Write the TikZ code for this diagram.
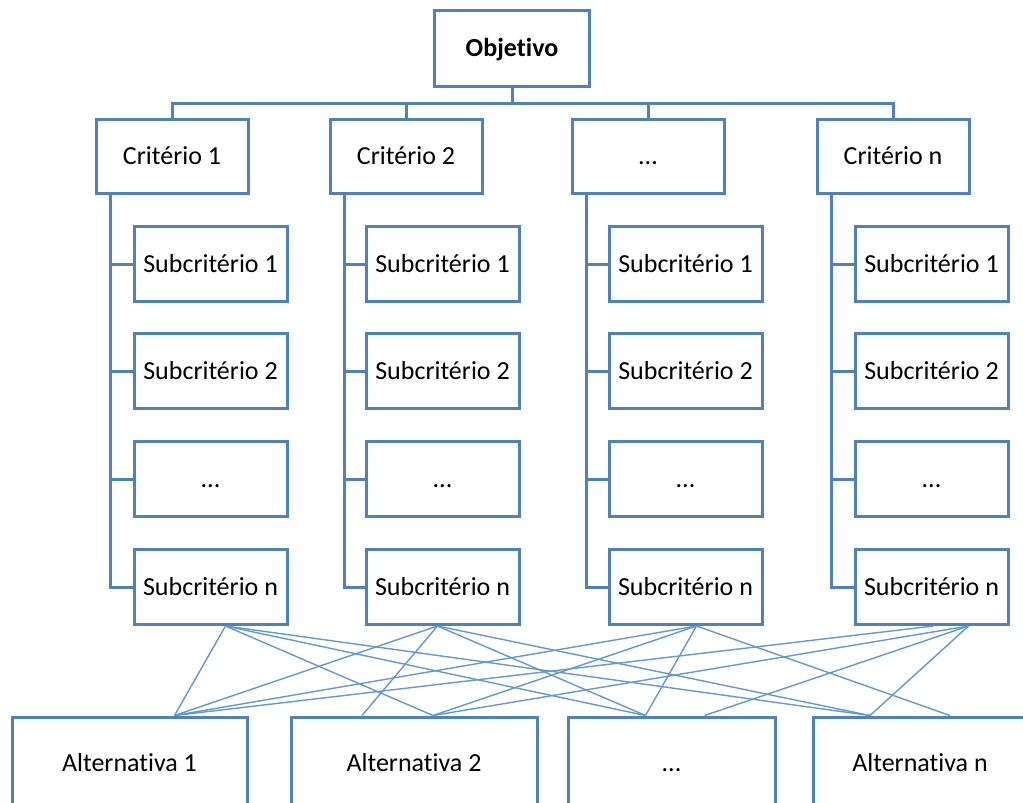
\documentclass[tikz,border=0pt]{standalone}
\usepackage{fontspec}
\setmainfont{Carlito}[Ligatures={NoCommon,NoRequired,NoContextual}]
\definecolor{boxblue}{RGB}{79,129,189}
\definecolor{webblue}{RGB}{98,152,212}
\tikzset{
  box/.style={draw=boxblue, line width=3pt, fill=white, inner sep=0pt, text height=21pt, text depth=5pt, font=\fontsize{26}{30}\selectfont},
  crit/.style={box, minimum width=152pt, minimum height=74pt},
  sub/.style={box, minimum width=153pt, minimum height=75pt},
  alt/.style={box, minimum height=92pt},
  tree/.style={draw=boxblue, line width=3pt},
  web/.style={draw=webblue, line width=1.4pt}
}
\begin{document}
\begin{tikzpicture}[x=1pt, y=-1pt]
        \useasboundingbox (0,0) rectangle (1023,803);
        \clip (0,0) rectangle (1023,803);

        \node[box, minimum width=155pt, minimum height=76pt, font=\fontsize{26}{30}\selectfont\bfseries] (obj) at (512,48) {Objetivo}; %objetivo
        \coordinate (bus) at (512,103);

        \node[crit] (c1) at (172,156) {Critério 1}; %criterio 1
        \node[crit] (c2) at (406,156) {Critério 2}; %criterio 2
        \node[crit] (c3) at (648,156) {...}; %criterio ...
        \node[crit] (c4) at (893,156) {Critério n}; %criterio n

        \draw[tree] (obj.south) -- (bus) -| (c1.north);
        \draw[tree] (bus) -| (c2.north);
        \draw[tree] (bus) -| (c3.north);
        \draw[tree] (bus) -| (c4.north);

        \node[sub] (c1s1) at (210.5,264) {Subcritério 1}; %col 1
        \node[sub] (c1s2) at (210.5,371) {Subcritério 2};
        \node[sub] (c1s3) at (210.5,479) {...};
        \node[sub] (c1sn) at (210.5,587) {Subcritério n};

        \node[sub] (c2s1) at (442.5,264) {Subcritério 1}; %col 2
        \node[sub] (c2s2) at (442.5,371) {Subcritério 2};
        \node[sub] (c2s3) at (442.5,479) {...};
        \node[sub] (c2sn) at (442.5,587) {Subcritério n};

        \node[sub] (c3s1) at (685.5,264) {Subcritério 1}; %col 3
        \node[sub] (c3s2) at (685.5,371) {Subcritério 2};
        \node[sub] (c3s3) at (685.5,479) {...};
        \node[sub] (c3sn) at (685.5,587) {Subcritério n};

        \node[sub] (c4s1) at (931.5,264) {Subcritério 1}; %col n
        \node[sub] (c4s2) at (931.5,371) {Subcritério 2};
        \node[sub] (c4s3) at (931.5,479) {...};
        \node[sub] (c4sn) at (931.5,587) {Subcritério n};

        \draw[tree] ([xshift=16pt]c1.south west) |- (c1s1.west);
        \draw[tree] ([xshift=16pt]c1.south west) |- (c1s2.west);
        \draw[tree] ([xshift=16pt]c1.south west) |- (c1s3.west);
        \draw[tree] ([xshift=16pt]c1.south west) |- (c1sn.west);

        \draw[tree] ([xshift=16pt]c2.south west) |- (c2s1.west);
        \draw[tree] ([xshift=16pt]c2.south west) |- (c2s2.west);
        \draw[tree] ([xshift=16pt]c2.south west) |- (c2s3.west);
        \draw[tree] ([xshift=16pt]c2.south west) |- (c2sn.west);

        \draw[tree] ([xshift=16pt]c3.south west) |- (c3s1.west);
        \draw[tree] ([xshift=16pt]c3.south west) |- (c3s2.west);
        \draw[tree] ([xshift=16pt]c3.south west) |- (c3s3.west);
        \draw[tree] ([xshift=16pt]c3.south west) |- (c3sn.west);

        \draw[tree] ([xshift=16pt]c4.south west) |- (c4s1.west);
        \draw[tree] ([xshift=16pt]c4.south west) |- (c4s2.west);
        \draw[tree] ([xshift=16pt]c4.south west) |- (c4s3.west);
        \draw[tree] ([xshift=16pt]c4.south west) |- (c4sn.west);

        \node[alt, minimum width=235pt] (a1) at (129.5,763) {Alternativa 1}; %alternativa 1
        \node[alt, minimum width=246pt] (a2) at (414,763) {Alternativa 2}; %alternativa 2
        \node[alt, minimum width=207pt] (a3) at (671.5,763) {...}; %alternativa ...
        \node[alt, minimum width=214pt] (a4) at (920,763) {Alternativa n}; %alternativa n

        % subcriterio n -> alternativas
        \draw[web] ([xshift=15pt]c1sn.south) -- ([xshift=45pt]a1.north);
        \draw[web] ([xshift=15pt]c1sn.south) -- ([xshift=19pt]a2.north);
        \draw[web] ([xshift=15pt]c1sn.south) -- ([xshift=-26pt]a3.north);
        \draw[web] ([xshift=15pt]c1sn.south) -- ([xshift=-50pt]a4.north);

        \draw[web] ([xshift=-5pt]c2sn.south) -- ([xshift=45pt]a1.north);
        \draw[web] ([xshift=-5pt]c2sn.south) -- ([xshift=-52pt]a2.north);
        \draw[web] ([xshift=-5pt]c2sn.south) -- ([xshift=-26pt]a3.north);
        \draw[web] ([xshift=-5pt]c2sn.south) -- ([xshift=-50pt]a4.north);

        \draw[web] ([xshift=11pt]c3sn.south) -- ([xshift=45pt]a1.north);
        \draw[web] ([xshift=11pt]c3sn.south) -- ([xshift=19pt]a2.north);
        \draw[web] ([xshift=11pt]c3sn.south) -- ([xshift=-26pt]a3.north);
        \draw[web] ([xshift=11pt]c3sn.south) -- ([xshift=30pt]a4.north);

        \draw[web] ([xshift=2pt]c4sn.south) -- ([xshift=45pt]a1.north);
        \draw[web] ([xshift=37pt]c4sn.south) -- ([xshift=19pt]a2.north);
        \draw[web] ([xshift=37pt]c4sn.south) -- ([xshift=33pt]a3.north);
        \draw[web] ([xshift=37pt]c4sn.south) -- ([xshift=-50pt]a4.north);
    \end{tikzpicture}
\end{document}
